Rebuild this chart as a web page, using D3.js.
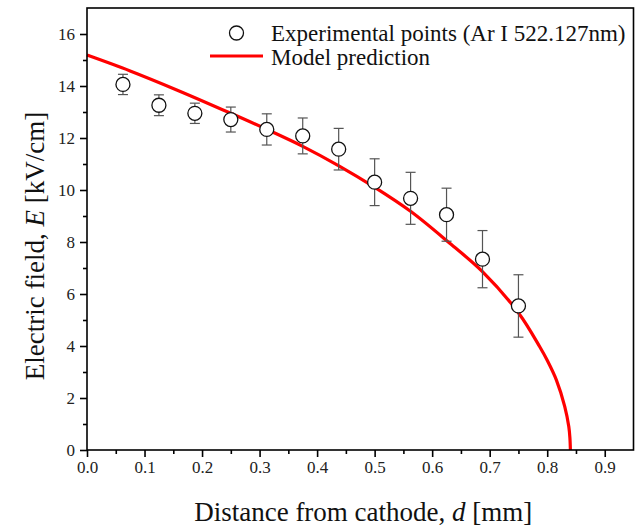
<!DOCTYPE html>
<html>
<head>
<meta charset="utf-8">
<script src="https://cdn.jsdelivr.net/npm/d3@7"></script>
<style>
  body { margin: 0; background: #fff; }
  svg { display: block; font-family: "Liberation Serif", "Times New Roman", serif; }
  svg text { font-family: "Liberation Serif", "Times New Roman", serif; }
</style>
</head>
<body>
<svg id="chart" width="638" height="528"></svg>
<script>
// Experimental points (Ar I 522.127nm)
const pointD = [0.0625, 0.125, 0.1875, 0.25, 0.3125, 0.375, 0.4375, 0.5, 0.5625, 0.625, 0.6875, 0.75];
const pointE = [14.06, 13.26, 12.95, 12.71, 12.33, 12.08, 11.57, 10.3, 9.68, 9.05, 7.34, 5.54];
const pointErr = [0.39, 0.40, 0.39, 0.48, 0.60, 0.69, 0.80, 0.90, 1.00, 1.02, 1.10, 1.20];

// Model prediction
const modelD = [0, 0.075, 0.156, 0.25, 0.3127, 0.3758, 0.4378, 0.5003, 0.563, 0.6306, 0.6874, 0.7505, 0.787, 0.80, 0.816, 0.8304, 0.8375, 0.8395, 0.8403];
const modelE = [15.19, 14.58, 13.85, 12.95, 12.33, 11.67, 10.93, 10.1, 9.17, 7.95, 6.86, 5.26, 3.97, 3.45, 2.69, 1.68, 0.9, 0.45, 0];

const xTicks = [0, 0.1, 0.2, 0.3, 0.4, 0.5, 0.6, 0.7, 0.8, 0.9];
const yTicks = [0, 2, 4, 6, 8, 10, 12, 14, 16];

const svg = d3.select("#chart");

// Plot area
const plot = { left: 87, right: 633.5, top: 8, bottom: 450 };

const x = d3.scaleLinear().domain([0, 0.95]).range([plot.left, plot.right]);
const y = d3.scaleLinear().domain([0, 17]).range([plot.bottom, plot.top]);

// Model curve
const line = d3.line()
    .x((d, i) => x(modelD[i]))
    .y((d, i) => y(modelE[i]))
    .curve(d3.curveCatmullRom.alpha(0.5));

svg.append("path")
    .datum(modelD)
    .attr("d", line)
    .attr("fill", "none")
    .attr("stroke", "#ff0000")
    .attr("stroke-width", 3.2);

// Error bars
const errG = svg.append("g")
    .attr("stroke", "#555")
    .attr("stroke-width", 1.2);

pointD.forEach((d, i) => {
    const cx = x(d);
    const y1 = y(pointE[i] + pointErr[i]);
    const y2 = y(pointE[i] - pointErr[i]);
    errG.append("line").attr("x1", cx).attr("x2", cx).attr("y1", y1).attr("y2", y2);
    errG.append("line").attr("x1", cx - 5).attr("x2", cx + 5).attr("y1", y1).attr("y2", y1);
    errG.append("line").attr("x1", cx - 5).attr("x2", cx + 5).attr("y1", y2).attr("y2", y2);
});

// Points
svg.append("g")
    .selectAll("circle")
    .data(pointD)
    .enter()
    .append("circle")
    .attr("cx", d => x(d))
    .attr("cy", (d, i) => y(pointE[i]))
    .attr("r", 7)
    .attr("fill", "#fff")
    .attr("stroke", "#111")
    .attr("stroke-width", 1.3);

// Frame
svg.append("rect")
    .attr("x", plot.left)
    .attr("y", plot.top)
    .attr("width", plot.right - plot.left)
    .attr("height", plot.bottom - plot.top)
    .attr("fill", "none")
    .attr("stroke", "#000")
    .attr("stroke-width", 1.6);

// X axis
svg.append("g")
    .attr("transform", `translate(0,${plot.bottom})`)
    .call(d3.axisBottom(x).tickValues(xTicks).tickFormat(d3.format(".1f")).tickSize(7).tickPadding(4));
svg.append("g")
    .attr("transform", `translate(0,${plot.bottom})`)
    .call(d3.axisBottom(x).tickValues(d3.range(0.05, 0.95, 0.1)).tickFormat("").tickSize(4));

// Y axis
svg.append("g")
    .attr("transform", `translate(${plot.left},0)`)
    .call(d3.axisLeft(y).tickValues(yTicks).tickSize(7).tickPadding(5));
svg.append("g")
    .attr("transform", `translate(${plot.left},0)`)
    .call(d3.axisLeft(y).tickValues(d3.range(1, 17, 2)).tickFormat("").tickSize(4));

svg.selectAll(".domain").remove();
svg.selectAll(".tick line").attr("stroke", "#000").attr("stroke-width", 1.6);
svg.selectAll(".tick text")
    .attr("fill", "#222")
    .style("font-family", '"Liberation Serif", serif')
    .style("font-size", "17px");

// Axis titles
const xTitle = svg.append("text")
    .attr("x", (plot.left + plot.right) / 2 + 3)
    .attr("y", 521)
    .attr("text-anchor", "middle")
    .style("font-size", "27px")
    .attr("fill", "#111");
xTitle.append("tspan").text("Distance from cathode, ");
xTitle.append("tspan").style("font-style", "italic").text("d");
xTitle.append("tspan").text(" [mm]");

const yTitle = svg.append("text")
    .attr("transform", `translate(44,246) rotate(-90)`)
    .attr("text-anchor", "middle")
    .style("font-size", "27px")
    .attr("fill", "#111");
yTitle.append("tspan").text("Electric field, ");
yTitle.append("tspan").style("font-style", "italic").text("E");
yTitle.append("tspan").text(" [kV/cm]");

// Legend
const legend = svg.append("g");
legend.append("circle")
    .attr("cx", 236.5).attr("cy", 33).attr("r", 7)
    .attr("fill", "#fff").attr("stroke", "#111").attr("stroke-width", 1.3);
legend.append("text")
    .attr("x", 271).attr("y", 33).attr("dy", "0.35em")
    .style("font-size", "23px").attr("fill", "#111")
    .text("Experimental points (Ar I 522.127nm)");
legend.append("line")
    .attr("x1", 210).attr("x2", 263).attr("y1", 56).attr("y2", 56)
    .attr("stroke", "#ff0000").attr("stroke-width", 3.2);
legend.append("text")
    .attr("x", 271).attr("y", 57).attr("dy", "0.35em")
    .style("font-size", "23px").attr("fill", "#111")
    .text("Model prediction");
</script>
</body>
</html>
